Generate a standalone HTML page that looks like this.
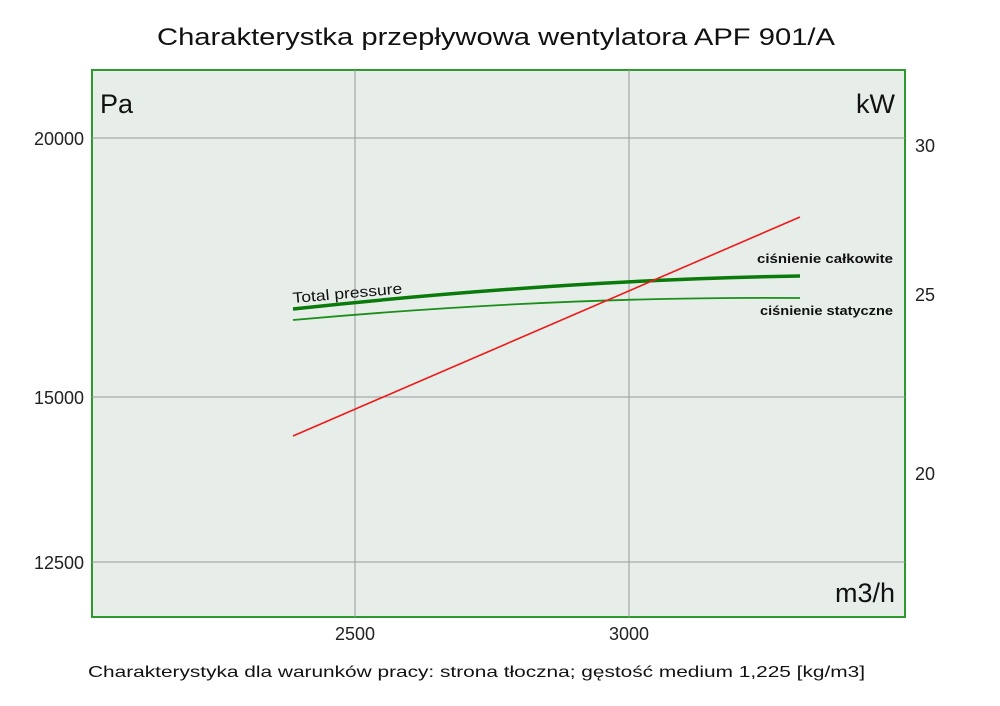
<!DOCTYPE html>
<html><head><meta charset="utf-8"><style>
body{margin:0;background:#fff;width:1000px;height:706px;overflow:hidden}
svg{display:block;font-family:"Liberation Sans","DejaVu Sans",sans-serif}
</style></head><body>
<svg width="1000" height="706" viewBox="0 0 1000 706">
<text x="157" y="45" font-size="24" fill="#111" textLength="678" lengthAdjust="spacingAndGlyphs">Charakterystka przepływowa wentylatora APF 901/A</text>
<rect x="92" y="70" width="813" height="547" fill="#e7eee9" stroke="#2e9a2e" stroke-width="2"/>
<g stroke="#999" stroke-width="1">
<line x1="355" y1="70" x2="355" y2="617"/>
<line x1="629" y1="70" x2="629" y2="617"/>
<line x1="92" y1="138" x2="905" y2="138"/>
<line x1="92" y1="397" x2="905" y2="397"/>
<line x1="92" y1="562" x2="905" y2="562"/>
</g>
<text x="100" y="113" font-size="27" fill="#111">Pa</text>
<text x="895" y="113" font-size="27" fill="#111" text-anchor="end">kW</text>
<text x="895" y="602" font-size="27" fill="#111" text-anchor="end">m3/h</text>
<g font-size="18" fill="#222">
<text x="84" y="145" text-anchor="end">20000</text>
<text x="84" y="404" text-anchor="end">15000</text>
<text x="84" y="569" text-anchor="end">12500</text>
<text x="915" y="152">30</text>
<text x="915" y="301">25</text>
<text x="915" y="480">20</text>
<text x="355" y="640" text-anchor="middle">2500</text>
<text x="629" y="640" text-anchor="middle">3000</text>
</g>
<path d="M293,309 Q560,280 800,276" fill="none" stroke="#0a7a0a" stroke-width="3.5"/>
<path d="M293,320 Q560,296 800,298" fill="none" stroke="#1a8f1a" stroke-width="1.8"/>
<line x1="293" y1="436" x2="800" y2="217" stroke="#f01818" stroke-width="1.6"/>
<text x="293" y="303" font-size="15" fill="#111" transform="rotate(-5 293 303)" textLength="110" lengthAdjust="spacingAndGlyphs">Total pressure</text>
<text x="757" y="263" font-size="13" font-weight="bold" fill="#111" textLength="136" lengthAdjust="spacingAndGlyphs">ciśnienie całkowite</text>
<text x="760" y="315" font-size="13" font-weight="bold" fill="#111" textLength="133" lengthAdjust="spacingAndGlyphs">ciśnienie statyczne</text>
<text x="88" y="677" font-size="16" fill="#111" textLength="777" lengthAdjust="spacingAndGlyphs">Charakterystyka dla warunków pracy: strona tłoczna; gęstość medium 1,225 [kg/m3]</text>
</svg>
</body></html>
